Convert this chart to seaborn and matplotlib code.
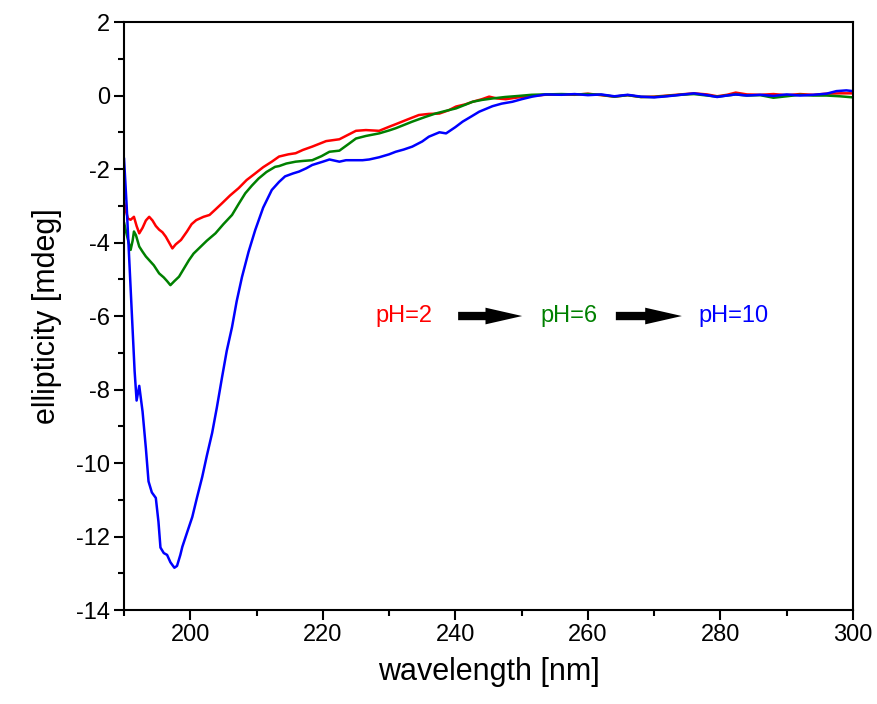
import pandas as pd
import matplotlib.pyplot as plt
import seaborn as sns
from matplotlib.ticker import MultipleLocator
from matplotlib.patches import FancyArrowPatch

# CD spectra
wl_ph2 = [190.0, 190.3, 190.6, 191.0, 191.5, 191.9, 192.3, 192.8, 193.3, 193.8,
          194.3, 194.8, 195.3, 195.8, 196.3, 196.8, 197.3, 197.8, 198.6, 199.5,
          200.2, 200.9, 202.0, 202.9, 203.8, 204.8, 206.0, 207.3, 208.5, 209.8,
          211.0, 212.3, 213.4, 214.8, 215.9, 217.0, 218.4, 220.5, 222.5, 223.8,
          225.0, 226.5, 228.5, 230.0, 231.0, 232.8, 234.5, 236.0, 237.6, 239.0,
          240.1, 241.5, 242.6, 244.0, 245.1, 246.3, 247.6, 249.5, 251.6, 253.5,
          256.0, 258.0, 260.0, 262.0, 264.0, 266.0, 268.0, 270.0, 272.0, 274.0,
          276.0, 278.0, 279.5, 281.0, 282.3, 284.0, 286.0, 288.0, 290.0, 292.0,
          294.0, 296.0, 298.0, 300.0]
ell_ph2 = [-2.90, -3.15, -3.35, -3.38, -3.30, -3.55, -3.75, -3.60, -3.40, -3.30,
           -3.40, -3.55, -3.65, -3.72, -3.84, -4.00, -4.16, -4.05, -3.93, -3.70,
           -3.50, -3.39, -3.30, -3.25, -3.10, -2.93, -2.72, -2.52, -2.30, -2.12,
           -1.95, -1.80, -1.66, -1.60, -1.57, -1.48, -1.39, -1.24, -1.19, -1.07,
           -0.96, -0.94, -0.96, -0.85, -0.78, -0.65, -0.53, -0.50, -0.49, -0.40,
           -0.30, -0.24, -0.17, -0.10, -0.03, -0.08, -0.10, -0.05, -0.01, 0.02,
           0.03, 0.02, 0.05, 0.01, -0.03, 0.01, -0.04, -0.03, 0.0, 0.03,
           0.06, 0.03, -0.02, 0.02, 0.08, 0.03, 0.02, 0.04, 0.01, 0.04,
           0.02, 0.05, 0.06, 0.06]

wl_ph6 = [190.0, 190.3, 190.7, 191.0, 191.3, 191.5, 191.8, 192.3, 192.8, 193.3,
          193.8, 194.5, 195.3, 196.0, 196.5, 197.0, 197.6, 198.3, 199.0, 199.8,
          200.5, 201.3, 202.5, 203.8, 205.0, 206.3, 207.3, 208.3, 209.3, 210.3,
          211.5, 212.8, 213.4, 214.5, 215.9, 217.0, 218.4, 219.8, 221.0, 222.5,
          223.8, 225.0, 226.5, 228.5, 230.0, 231.0, 233.5, 235.5, 237.0, 238.5,
          240.1, 241.5, 242.6, 244.0, 245.6, 247.5, 249.6, 251.5, 253.5,
          256.0, 258.0, 260.0, 262.0, 264.0, 266.0, 268.0, 270.0, 272.0, 274.0,
          276.0, 278.0, 279.5, 281.0, 282.3, 284.0, 286.0, 288.0, 290.0, 292.0,
          294.0, 296.0, 298.0, 300.0]
ell_ph6 = [-3.45, -3.70, -4.00, -4.20, -3.95, -3.70, -3.80, -4.11, -4.25, -4.38,
           -4.48, -4.62, -4.84, -4.95, -5.05, -5.16, -5.05, -4.93, -4.72, -4.48,
           -4.30, -4.16, -3.95, -3.75, -3.50, -3.25, -2.95, -2.66, -2.45, -2.26,
           -2.08, -1.94, -1.92, -1.85, -1.80, -1.78, -1.76, -1.65, -1.53, -1.50,
           -1.33, -1.17, -1.10, -1.03, -0.95, -0.89, -0.71, -0.58, -0.49, -0.42,
           -0.35, -0.25, -0.17, -0.12, -0.08, -0.04, -0.01, 0.02, 0.03,
           0.04, 0.03, 0.04, 0.02, -0.03, 0.01, -0.04, -0.04, -0.01, 0.02,
           0.04, 0.0, -0.03, 0.0, 0.03, 0.0, 0.01, -0.06, -0.02, 0.02,
           0.0, 0.0, -0.02, -0.05]

wl_ph10 = [190.0, 190.4, 190.8, 191.2, 191.6, 191.9, 192.3, 192.8, 193.3, 193.7,
           194.2, 194.8, 195.2, 195.5, 196.0, 196.5, 197.0, 197.6, 198.0, 198.5,
           198.8, 199.5, 200.3, 201.0, 201.8, 202.5, 203.3, 204.0, 204.8, 205.5,
           206.3, 207.0, 207.8, 208.8, 209.8, 211.0, 212.3, 213.4, 214.3, 215.5,
           216.4, 217.5, 218.4, 220.0, 221.0, 222.5, 223.5, 224.5, 226.0, 227.0,
           228.5, 230.0, 231.0, 232.2, 233.5, 235.0, 236.0, 237.6, 238.6, 240.0,
           241.1, 242.5, 243.6, 245.6, 247.0, 248.6, 250.0, 251.6, 253.6,
           256.0, 258.0, 260.0, 262.0, 264.0, 266.0, 268.0, 270.0, 272.0, 274.0,
           276.0, 278.0, 279.5, 281.0, 282.3, 284.0, 286.0, 288.0, 290.0, 292.0,
           294.0, 296.0, 297.5, 299.0, 300.0]
ell_ph10 = [-1.70, -3.00, -4.50, -6.00, -7.50, -8.30, -7.90, -8.60, -9.60, -10.50,
            -10.80, -10.95, -11.60, -12.30, -12.45, -12.50, -12.70, -12.85, -12.80, -12.50,
            -12.28, -11.90, -11.47, -10.95, -10.38, -9.80, -9.18, -8.50, -7.66, -6.95,
            -6.30, -5.60, -4.94, -4.25, -3.66, -3.05, -2.57, -2.35, -2.20, -2.12,
            -2.07, -1.98, -1.89, -1.80, -1.74, -1.80, -1.76, -1.76, -1.76, -1.74,
            -1.68, -1.60, -1.53, -1.47, -1.39, -1.25, -1.12, -1.00, -1.03, -0.86,
            -0.71, -0.56, -0.44, -0.29, -0.22, -0.17, -0.10, -0.03, 0.03,
            0.02, 0.04, 0.01, 0.03, -0.02, 0.02, -0.03, -0.05, -0.02, 0.02,
            0.06, 0.01, -0.04, 0.0, 0.03, 0.0, 0.02, -0.01, 0.03, 0.0,
            0.02, 0.05, 0.12, 0.14, 0.12]

labels = ["pH=2", "pH=6", "pH=10"]
colors = ["#ff0000", "#008000", "#0000ff"]

frames = []
for lab, wl, ell in zip(labels, [wl_ph2, wl_ph6, wl_ph10], [ell_ph2, ell_ph6, ell_ph10]):
    frames.append(pd.DataFrame({"wavelength": wl, "ellipticity": ell, "pH": lab}))
df = pd.concat(frames, ignore_index=True)

sns.set_theme(style="ticks")
plt.rcParams["font.family"] = ["Liberation Sans", "DejaVu Sans"]
plt.rcParams["axes.unicode_minus"] = False
plt.rcParams["text.color"] = "black"
plt.rcParams["axes.labelcolor"] = "black"

fig = plt.figure(figsize=(8.77, 7.04), dpi=100)
ax = fig.add_axes([0.1414, 0.1335, 0.8312, 0.8352])

sns.lineplot(data=df, x="wavelength", y="ellipticity", hue="pH",
             palette=dict(zip(labels, colors)), linewidth=1.8,
             legend=False, ax=ax, sort=False, estimator=None)

ax.set_xlim(190, 300)
ax.set_ylim(-14, 2)
ax.xaxis.set_major_locator(MultipleLocator(20))
ax.xaxis.set_minor_locator(MultipleLocator(10))
ax.yaxis.set_major_locator(MultipleLocator(2))
ax.yaxis.set_minor_locator(MultipleLocator(1))
ax.tick_params(which="major", direction="out", length=7, width=1.5,
               labelsize=17, colors="black", pad=3)
ax.tick_params(which="minor", direction="out", length=4, width=1.5, colors="black")
for s in ax.spines.values():
    s.set_linewidth(1.5)
    s.set_color("black")

ax.set_xlabel("wavelength [nm]", fontsize=22, labelpad=8, color="black")
ax.set_ylabel("ellipticity [mdeg]", fontsize=22, labelpad=10, color="black")

# pH sequence annotation
ax.text(232.3, -6.0, "pH=2", color=colors[0], fontsize=17, ha="center", va="center")
ax.text(257.2, -6.0, "pH=6", color=colors[1], fontsize=17, ha="center", va="center")
ax.text(282.0, -6.0, "pH=10", color=colors[2], fontsize=17, ha="center", va="center")
for x0, x1 in [(240.0, 250.5), (263.8, 274.6)]:
    arr = FancyArrowPatch((x0, -6.0), (x1, -6.0),
                          arrowstyle="simple,head_length=2.2,head_width=1.0,tail_width=0.5",
                          mutation_scale=12, color="black", lw=0)
    ax.add_patch(arr)

plt.savefig("out.png", dpi=100)
plt.close()
